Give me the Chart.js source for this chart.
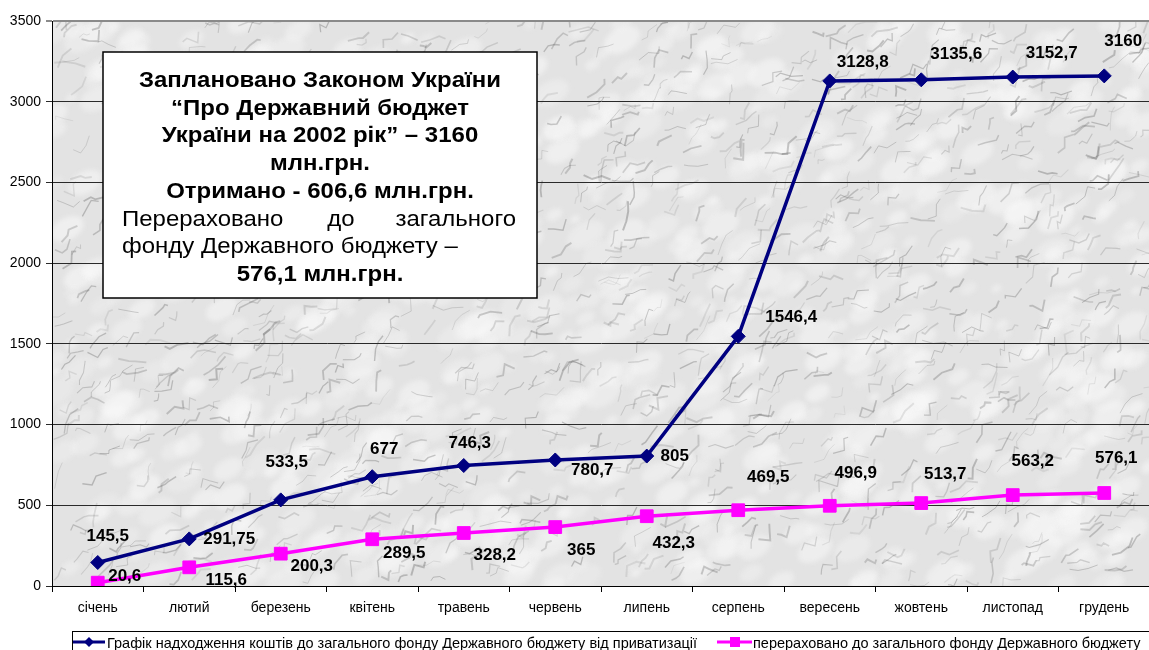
<!DOCTYPE html>
<html>
<head>
<meta charset="utf-8">
<script src="https://cdn.jsdelivr.net/npm/chart.js@4.4.1/dist/chart.umd.min.js"></script>
<style>
    html, body { margin: 0; padding: 0; overflow: hidden; background: #fff; }
    canvas { display: block; }
</style>
</head>
<body>
<canvas id="privatization-chart" width="1160" height="650"></canvas>
<script>
// data
const months = ["січень", "лютий", "березень", "квітень", "травень", "червень",
    "липень", "серпень", "вересень", "жовтень", "листопад", "грудень"];
const receivedValues = [145.5, 291.75, 533.5, 677, 746.3, 780.7, 805, 1546.4, 3128.8, 3135.6, 3152.7, 3160];
const transferredValues = [20.6, 115.6, 200.3, 289.5, 328.2, 365, 432.3, 469.5, 496.9, 513.7, 563.2, 576.1];
const receivedLabels = ["145,5", "291,75", "533,5", "677", "746,3", "780,7", "805", "1546,4", "3128,8", "3135,6", "3152,7", "3160"];
const transferredLabels = ["20,6", "115,6", "200,3", "289,5", "328,2", "365", "432,3", "469,5", "496,9", "513,7", "563,2", "576,1"];
const yTicks = [0, 500, 1000, 1500, 2000, 2500, 3000, 3500];
const seriesNames = [
    "Графік надходження коштів до загального фонду Державного бюджету від приватизації",
    "перераховано до загального фонду Державного бюджету"
];

// where each value label sits, relative to its point
const receivedLabelShift = [[10, -26], [40, 0], [6, -38], [12, -27], [6, -22], [37, 10], [28, 0],
    [53, -19], [33, -19], [35, -26], [39, -24], [19, -35]];
const transferredLabelShift = [[27, -6], [37, 13], [31, 13], [32, 14], [31, 22], [26, 23], [27, 27],
    [30, -33], [26, -32], [24, -29], [20, -34], [12, -35]];

const FONT = 'Arial, "Liberation Sans", sans-serif';
const NAVY = "#000080";
const PINK = "#ff00ff";

function hash(n) {
    const s = Math.sin(n * 12.9898 + 78.233) * 43758.5453;
    return s - Math.floor(s);
}

// light grey marble behind the plot
const marblePlugin = {
    id: "marble",
    beforeDraw(chart) {
        const { ctx, chartArea: a } = chart;
        const w = a.right - a.left, h = a.bottom - a.top;
        ctx.save();
        ctx.beginPath();
        ctx.rect(a.left, a.top, w, h);
        ctx.clip();
        ctx.fillStyle = "#e3e3e3";
        ctx.fillRect(a.left, a.top, w, h);
        ctx.filter = "blur(2.5px)";
        for (let i = 0; i < 900; i++) {
            const x = a.left + hash(i) * w;
            const y = a.top + hash(i + 1000) * h;
            const r = 4 + hash(i + 2000) * 12;
            ctx.fillStyle = "rgba(248,248,248," + (0.25 + hash(i + 3000) * 0.35).toFixed(2) + ")";
            ctx.beginPath();
            ctx.ellipse(x, y, r * 1.3, r * 0.8, -0.5, 0, Math.PI * 2);
            ctx.fill();
        }
        ctx.filter = "blur(0.7px)";
        for (let i = 0; i < 1300; i++) {
            let x = a.left + hash(i + 5000) * w;
            let y = a.top + hash(i + 6000) * h;
            ctx.strokeStyle = "rgba(80,80,80," + (0.1 + hash(i + 7000) * 0.22).toFixed(2) + ")";
            ctx.lineWidth = 0.7 + hash(i + 8000) * 1.3;
            ctx.beginPath();
            ctx.moveTo(x, y);
            for (let k = 0; k < 3; k++) {
                const ang = -0.6 + (hash(i * 7 + k + 9000) - 0.5) * 2.2;
                const len = 3 + hash(i * 5 + k + 11000) * 9;
                x += Math.cos(ang) * len;
                y += Math.sin(ang) * len;
                ctx.lineTo(x, y);
            }
            ctx.stroke();
        }
        ctx.restore();
    }
};

// numbers next to the points
const valueLabelPlugin = {
    id: "valueLabels",
    afterDatasetsDraw(chart) {
        const { ctx } = chart;
        const sets = [[receivedLabels, receivedLabelShift], [transferredLabels, transferredLabelShift]];
        ctx.save();
        ctx.font = "bold 17px " + FONT;
        ctx.fillStyle = "#000";
        ctx.textAlign = "center";
        ctx.textBaseline = "middle";
        sets.forEach(([texts, shifts], di) => {
            chart.getDatasetMeta(di).data.forEach((pt, j) => {
                ctx.fillText(texts[j], pt.x + shifts[j][0], pt.y + shifts[j][1]);
            });
        });
        ctx.restore();
    }
};

// the note box and the legend
const overlayPlugin = {
    id: "overlay",
    afterDraw(chart) {
        const { ctx } = chart;
        ctx.save();

        // note box
        const bx = 103, by = 52, bw = 434, bh = 246;
        ctx.fillStyle = "#fff";
        ctx.fillRect(bx, by, bw, bh);
        ctx.strokeStyle = "#000";
        ctx.lineWidth = 1.5;
        ctx.strokeRect(bx, by, bw, bh);

        const bold = "bold 22px " + FONT, normal = "22px " + FONT;
        ctx.font = bold;
        const sx = 362 / ctx.measureText("Заплановано Законом України").width;
        const cx = bx + bw / 2;
        const put = (text, x, y, font, align) => {
            ctx.save();
            ctx.font = font;
            ctx.textAlign = align;
            ctx.textBaseline = "alphabetic";
            ctx.fillStyle = "#000";
            ctx.translate(x, y);
            ctx.scale(sx, 1);
            ctx.fillText(text, 0, 0);
            ctx.restore();
        };
        const step = 27.7;
        const base = 87;
        put("Заплановано Законом України", cx, base, bold, "center");
        put("“Про Державний бюджет", cx, base + step, bold, "center");
        put("України на 2002 рік” – 3160", cx, base + step * 2, bold, "center");
        put("млн.грн.", cx, base + step * 3, bold, "center");
        put("Отримано - 606,6 млн.грн.", cx, base + step * 4, bold, "center");
        put("Перераховано", 122, base + step * 5, normal, "left");
        put("до", 341, base + step * 5, normal, "center");
        put("загального", 516, base + step * 5, normal, "right");
        put("фонду Державного бюджету –", 122, base + step * 6, normal, "left");
        put("576,1 млн.грн.", cx, base + step * 7, bold, "center");

        // legend
        ctx.lineWidth = 1;
        ctx.strokeStyle = "#000";
        ctx.strokeRect(72.5, 631.5, 1200, 40);
        const ly = 642;
        ctx.lineWidth = 3;
        ctx.strokeStyle = NAVY;
        ctx.beginPath(); ctx.moveTo(73, ly); ctx.lineTo(105, ly); ctx.stroke();
        ctx.fillStyle = NAVY;
        ctx.beginPath();
        ctx.moveTo(89, ly - 5); ctx.lineTo(94, ly); ctx.lineTo(89, ly + 5); ctx.lineTo(84, ly);
        ctx.closePath(); ctx.fill();
        ctx.strokeStyle = PINK;
        ctx.beginPath(); ctx.moveTo(717, ly); ctx.lineTo(752, ly); ctx.stroke();
        ctx.fillStyle = PINK;
        ctx.fillRect(730, ly - 5, 10, 10);

        ctx.font = "14.5px " + FONT;
        ctx.fillStyle = "#000";
        ctx.textAlign = "left";
        ctx.textBaseline = "alphabetic";
        ctx.fillText(seriesNames[0], 107, 648);
        ctx.fillText(seriesNames[1], 753, 648);
        ctx.restore();
    }
};

new Chart(document.getElementById("privatization-chart"), {
    type: "line",
    data: {
        labels: months,
        datasets: [
            {
                label: seriesNames[0],
                data: receivedValues,
                borderColor: NAVY,
                backgroundColor: NAVY,
                borderWidth: 3.5,
                pointStyle: "rectRot",
                pointRadius: 7,
                pointBorderWidth: 1,
                pointBackgroundColor: NAVY,
                pointBorderColor: NAVY,
                tension: 0,
                fill: false,
            },
            {
                label: seriesNames[1],
                data: transferredValues,
                borderColor: PINK,
                backgroundColor: PINK,
                borderWidth: 3.5,
                pointStyle: "rect",
                pointRadius: 9,
                pointBorderWidth: 1,
                pointBackgroundColor: PINK,
                pointBorderColor: PINK,
                tension: 0,
                fill: false,
            },
        ],
    },
    options: {
        responsive: false,
        animation: false,
        devicePixelRatio: 1,
        layout: { padding: { top: 21, right: 4, left: 0, bottom: 0 } },
        plugins: {
            legend: { display: false },
            tooltip: { enabled: false },
            title: { display: false },
        },
        scales: {
            x: {
                offset: true,
                afterFit: (scale) => { scale.height = 64; },
                border: { display: true, color: "#000", width: 1 },
                grid: {
                    offset: true,
                    drawOnChartArea: false,
                    drawTicks: true,
                    tickLength: 6,
                    color: "#000",
                },
                ticks: {
                    autoSkip: false,
                    maxRotation: 0,
                    padding: 8,
                    color: "#000",
                    font: { family: FONT, size: 14 },
                },
            },
            y: {
                min: 0,
                max: 3500,
                afterFit: (scale) => { scale.width = 52; },
                afterBuildTicks: (scale) => { scale.ticks = yTicks.map((v) => ({ value: v })); },
                border: { display: true, color: "#000", width: 1 },
                grid: {
                    drawTicks: true,
                    tickLength: 6,
                    color: (ctx) => (ctx.tick && ctx.tick.value === 3500 ? "#8a8a8a" : "#2a2a2a"),
                    lineWidth: (ctx) => (ctx.tick && ctx.tick.value === 3500 ? 2 : 1),
                },
                ticks: {
                    padding: 5,
                    color: "#000",
                    font: { family: FONT, size: 14 },
                    callback: (value) => String(value),
                },
            },
        },
    },
    plugins: [marblePlugin, valueLabelPlugin, overlayPlugin],
});
</script>
</body>
</html>
